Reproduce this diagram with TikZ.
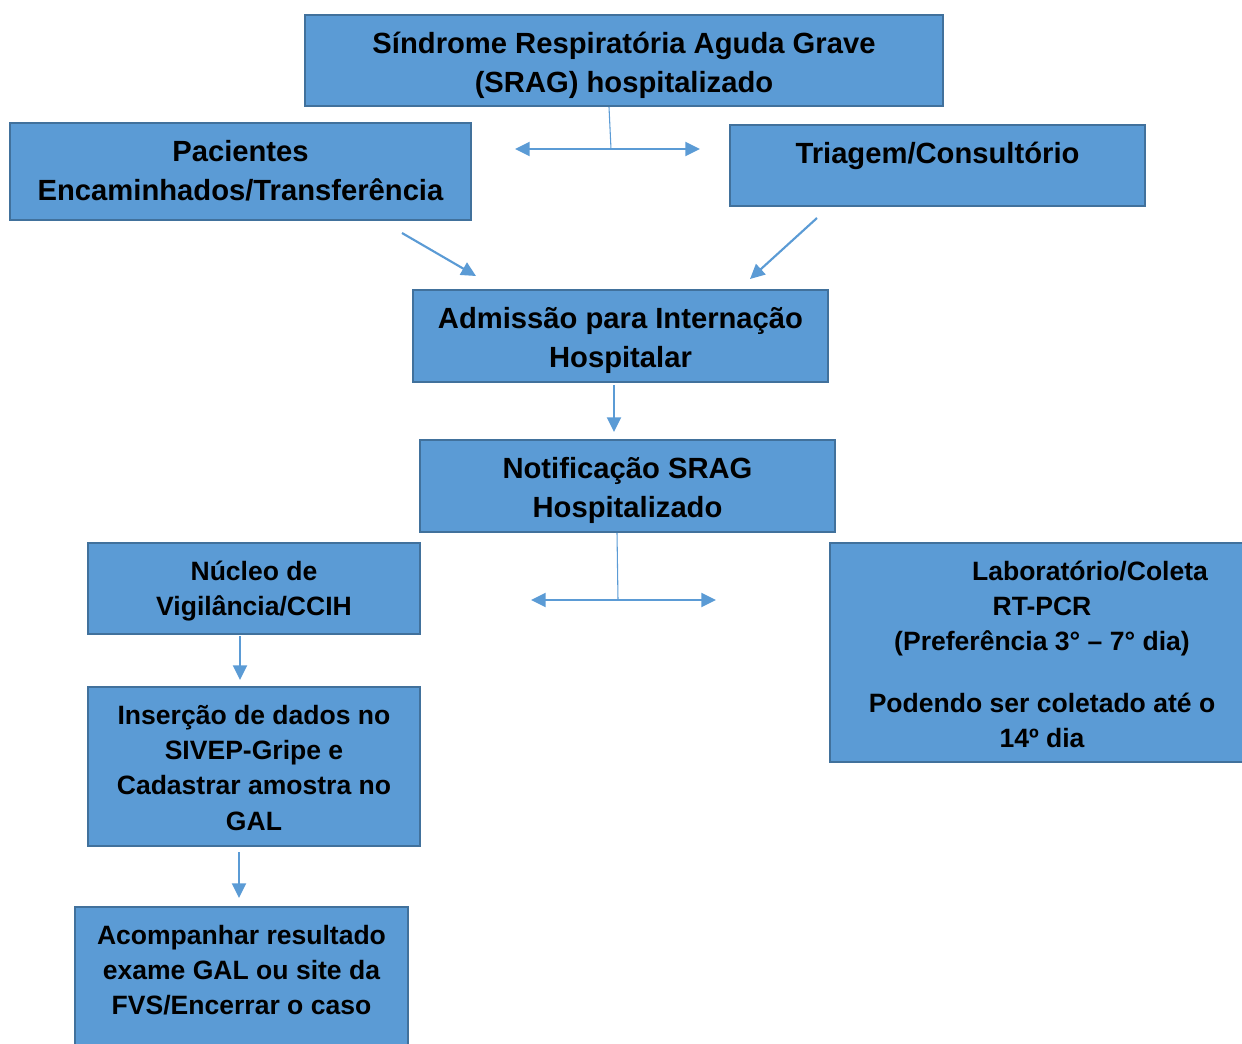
\documentclass[tikz,border=0pt]{standalone}
\usepackage{fontspec}
\setmainfont{Liberation Sans}
\usetikzlibrary{arrows.meta}
\definecolor{boxblue}{HTML}{5B9BD5}
\definecolor{boxedge}{HTML}{41719C}
\tikzset{
  box/.style={draw=boxedge, line width=1.5pt, fill=boxblue, align=center, inner sep=0pt, font=\bfseries\fontsize{21.9}{29.3}\selectfont},
  smallbox/.style={box, font=\bfseries\fontsize{19.9}{26.4}\selectfont},
  flow/.style={draw=boxblue, line width=1.6pt, -{Triangle[length=11pt,width=10.5pt]}},
  both/.style={flow, {Triangle[length=11pt,width=10.5pt]}-{Triangle[length=11pt,width=10.5pt]}},
  tie/.style={draw=boxblue, line width=0.8pt}
}
\begin{document}
\begin{tikzpicture}[x=0.75pt,y=-0.75pt]
            \useasboundingbox (0,0) rectangle (1242,1043);

            \node[box, minimum width=478.5pt, minimum height=68.25pt, text height=58.2pt, text depth=10.05pt] (srag) at (624, 60.5) {Síndrome Respiratória Aguda Grave\\(SRAG) hospitalizado};
            \node[box, minimum width=345.75pt, minimum height=72.75pt, text height=58.2pt, text depth=14.55pt] (pac) at (240.5, 171.5) {Pacientes\\Encaminhados/Transferência};
            \node[box, minimum width=311.25pt, minimum height=60.75pt, text height=28.9pt, text depth=31.85pt] (tri) at (937.5, 165.5) {Triagem/Consultório};
            \node[box, minimum width=311.25pt, minimum height=69pt, text height=58.2pt, text depth=10.8pt] (adm) at (620.5, 336) {Admissão para Internação\\Hospitalar};
            \node[box, minimum width=311.25pt, minimum height=69pt, text height=58.2pt, text depth=10.8pt] (notif) at (627.5, 486) {Notificação SRAG\\Hospitalizado};
            \node[smallbox, minimum width=249pt, minimum height=68.25pt, text height=54.5pt, text depth=13.75pt] (nucleo) at (254, 588.5) {Núcleo de\\Vigilância/CCIH};
            \node[smallbox, minimum width=318pt, minimum height=164.25pt, text height=153.7pt, text depth=10.55pt] (lab) at (1042, 652.5) {\hspace*{72pt}Laboratório/Coleta\\RT-PCR\\(Preferência 3° – 7° dia)\\[20pt]Podendo ser coletado até o\\14º dia};
            \node[smallbox, minimum width=249pt, minimum height=119.25pt, text height=107.3pt, text depth=11.95pt] (ins) at (254, 766.5) {Inserção de dados no\\SIVEP-Gripe e\\Cadastrar amostra no\\GAL};
            \node[smallbox, minimum width=249.75pt, minimum height=122.25pt, text height=80.9pt, text depth=41.35pt] (aco) at (241.5, 988.5) {Acompanhar resultado\\exame GAL ou site da\\FVS/Encerrar o caso};

            \coordinate (A) at (609, 107);\coordinate (B) at (611, 149);\coordinate (C) at (515, 149);\coordinate (D) at (700, 149);\coordinate (E) at (402, 233);\coordinate (F) at (476, 276);\coordinate (G) at (817, 218);\coordinate (H) at (750, 279);\coordinate (I) at (614, 385);\coordinate (J) at (614, 432);\coordinate (K) at (617, 533);\coordinate (L) at (618, 600);\coordinate (M) at (531, 600);\coordinate (N) at (716, 600);\coordinate (O) at (240, 636);\coordinate (P) at (240, 680);\coordinate (Q) at (239, 852);\coordinate (R) at (239, 898);

            \draw[tie] (A) -- (B);
            \draw[tie] (K) -- (L);
            \draw[both] (C) -- (D);
            \draw[both] (M) -- (N);

            \foreach \from/\to in {E/F, G/H, I/J, O/P, Q/R} {
                \draw[flow] (\from) -- (\to);
            }

        \end{tikzpicture}
\end{document}
